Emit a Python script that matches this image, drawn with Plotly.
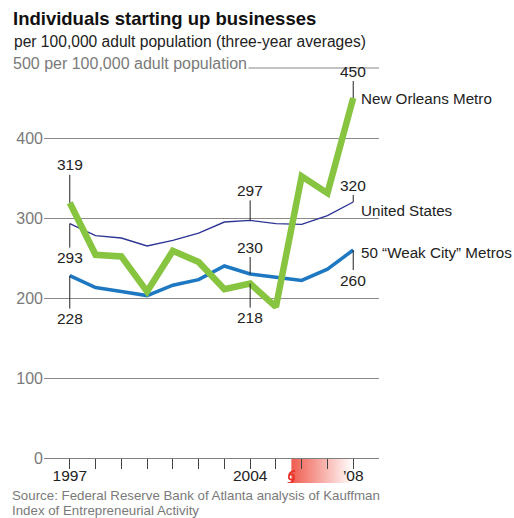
import plotly.graph_objects as go

# Individuals starting up businesses, per 100,000 adult population (three-year averages)
years = list(range(1997, 2009))
new_orleans = [319, 254, 252, 208, 259, 245, 211, 218, 189, 352, 331, 450]
united_states = [293, 278, 275, 265, 272, 281, 295, 297, 293, 292, 303, 320]
weak_cities = [228, 213, 208, 203, 216, 223, 240, 230, 226, 222, 236, 260]

series_names = ["New Orleans Metro", "United States", "50 \u201cWeak City\u201d Metros"]

y_tick_vals = [0, 100, 200, 300, 400]
y_tick_text = ["0", "100", "200", "300", "400"]
x_tick_text = {1997: "1997", 2004: "2004", 2008: "\u201908"}

# Hurricane Katrina (late August 2005) through 2008
katrina_start = 2005.6
katrina_end = 2008

# figure geometry
W, H = 514, 518
M_L, M_R, M_T, M_B = 44, 135, 68, 35
Y_MIN, Y_MAX = -31.25, 487.5
X_MIN, X_MAX = 1996, 2009
plot_w = W - M_L - M_R
plot_h = H - M_T - M_B


def paper_x(px):
    return (px - M_L) / plot_w


def paper_y(py):
    return (H - M_B - py) / plot_h


FONT = "Liberation Sans, Arial, sans-serif"
DARK = "#222222"
GRAY = "#7a7a7a"
GREEN = "#87c440"
BLUE = "#1d78c1"
NAVY = "#2d3594"

fig = go.Figure()

# shaded post-Katrina band under the baseline
fig.add_trace(go.Scatter(
    x=[katrina_start, katrina_end, katrina_end, katrina_start, katrina_start],
    y=[Y_MIN, Y_MIN, 0, 0, Y_MIN],
    fill="toself", mode="none",
    fillgradient=dict(type="horizontal",
                      colorscale=[[0, "rgb(240,92,80)"], [1, "rgb(255,255,255)"]]),
    hoverinfo="skip", showlegend=False,
))

fig.add_trace(go.Scatter(x=years, y=united_states, mode="lines",
                         line=dict(color=NAVY, width=1.4), hoverinfo="skip",
                         showlegend=False, name=series_names[1]))
fig.add_trace(go.Scatter(x=years, y=weak_cities, mode="lines",
                         line=dict(color=BLUE, width=3.5), hoverinfo="skip",
                         showlegend=False, name=series_names[2]))
fig.add_trace(go.Scatter(x=years, y=new_orleans, mode="lines",
                         line=dict(color=GREEN, width=6.5), hoverinfo="skip",
                         showlegend=False, name=series_names[0]))

annotations = []


def value_label(series, year, offset):
    i = years.index(year)
    v = series[i]
    annotations.append(dict(
        x=year, y=v, xref="x", yref="y", text=str(v),
        showarrow=True, arrowhead=0, arrowwidth=1, arrowcolor=DARK,
        ax=0, ay=offset, standoff=0,
        font=dict(family=FONT, size=15.5, color=DARK),
    ))


value_label(new_orleans, 1997, -38)
value_label(united_states, 1997, 34)
value_label(weak_cities, 1997, 43)
value_label(united_states, 2004, -30)
value_label(weak_cities, 2004, -27)
value_label(new_orleans, 2004, 34)
value_label(new_orleans, 2008, -27)
value_label(united_states, 2008, -17)
value_label(weak_cities, 2008, 30)

# series names at the right end of each line
for name, series, dy in zip(series_names, [new_orleans, united_states, weak_cities], [0, -8.5, -2.7]):
    annotations.append(dict(
        x=years[-1], y=series[-1], xref="x", yref="y", text=name,
        showarrow=False, xanchor="left", yanchor="middle", xshift=5.5, yshift=dy,
        font=dict(family=FONT, size=15.2, color=DARK),
    ))

# header texts
annotations.append(dict(
    x=paper_x(11.5), y=paper_y(41), xref="paper", yref="paper",
    text="per 100,000 adult population (three-year averages)",
    showarrow=False, xanchor="left", yanchor="middle",
    font=dict(family=FONT, size=15.6, color=DARK),
))
annotations.append(dict(
    x=paper_x(11), y=paper_y(63), xref="paper", yref="paper",
    text="500 per 100,000 adult population",
    showarrow=False, xanchor="left", yanchor="middle", bgcolor="white",
    font=dict(family=FONT, size=16, color=GRAY),
))

# source lines
for txt, py in [("Source: Federal Reserve Bank of Atlanta analysis of Kauffman", 495),
                ("Index of Entrepreneurial Activity", 510.5)]:
    annotations.append(dict(
        x=paper_x(9.5), y=paper_y(py), xref="paper", yref="paper", text=txt,
        showarrow=False, xanchor="left", yanchor="middle",
        font=dict(family=FONT, size=13.3, color=GRAY),
    ))

shapes = [
    # top rule
    dict(type="line", xref="paper", yref="paper", x0=0, x1=1, y0=1, y1=1,
         line=dict(color="#888888", width=1.2)),
    # hurricane symbol
    dict(type="path", xref="x", yref="y", xsizemode="pixel", ysizemode="pixel",
         xanchor=katrina_start, yanchor=-23.75,
         path=("M 2.6,0 C 2.6,1.45 1.45,2.6 0,2.6 C -1.45,2.6 -2.6,1.45 -2.6,0 "
               "C -2.6,-1.45 -1.45,-2.6 0,-2.6 C 1.45,-2.6 2.6,-1.45 2.6,0 Z "
               "M -2.6,0 C -2.6,4 0,6 3.8,6.2 "
               "M 2.6,0 C 2.6,-4 0,-6 -3.8,-6.2"),
         line=dict(color="#e8322a", width=1.7)),
]

fig.update_layout(
    width=W, height=H,
    margin=dict(l=M_L, r=M_R, t=M_T, b=M_B, pad=0),
    paper_bgcolor="white", plot_bgcolor="white",
    showlegend=False,
    title=dict(text="Individuals starting up businesses",
               x=13 / W, xref="container", xanchor="left",
               y=1 - 19 / H, yref="container", yanchor="middle",
               font=dict(family="Liberation Sans, Arial, sans-serif", size=18.5,
                         color="#111111", weight="bold")),
    xaxis=dict(range=[X_MIN, X_MAX], anchor="free", position=(0 - Y_MIN) / (Y_MAX - Y_MIN),
               showgrid=False, zeroline=False,
               showline=True, linecolor="#808080", linewidth=1.3,
               tickvals=years, ticktext=[x_tick_text.get(y, "") for y in years],
               ticks="outside", ticklen=10, tickwidth=1, tickcolor="#444444",
               ticklabelstandoff=-7,
               tickfont=dict(family=FONT, size=15.5, color=DARK)),
    yaxis=dict(range=[Y_MIN, Y_MAX], showgrid=True, gridcolor="#8a8a8a", gridwidth=1.1,
               zeroline=False, showline=False,
               tickvals=y_tick_vals, ticktext=y_tick_text, ticks="",
               tickfont=dict(family=FONT, size=16, color=GRAY)),
    annotations=annotations,
    shapes=shapes,
)

fig.write_html("out.html")
